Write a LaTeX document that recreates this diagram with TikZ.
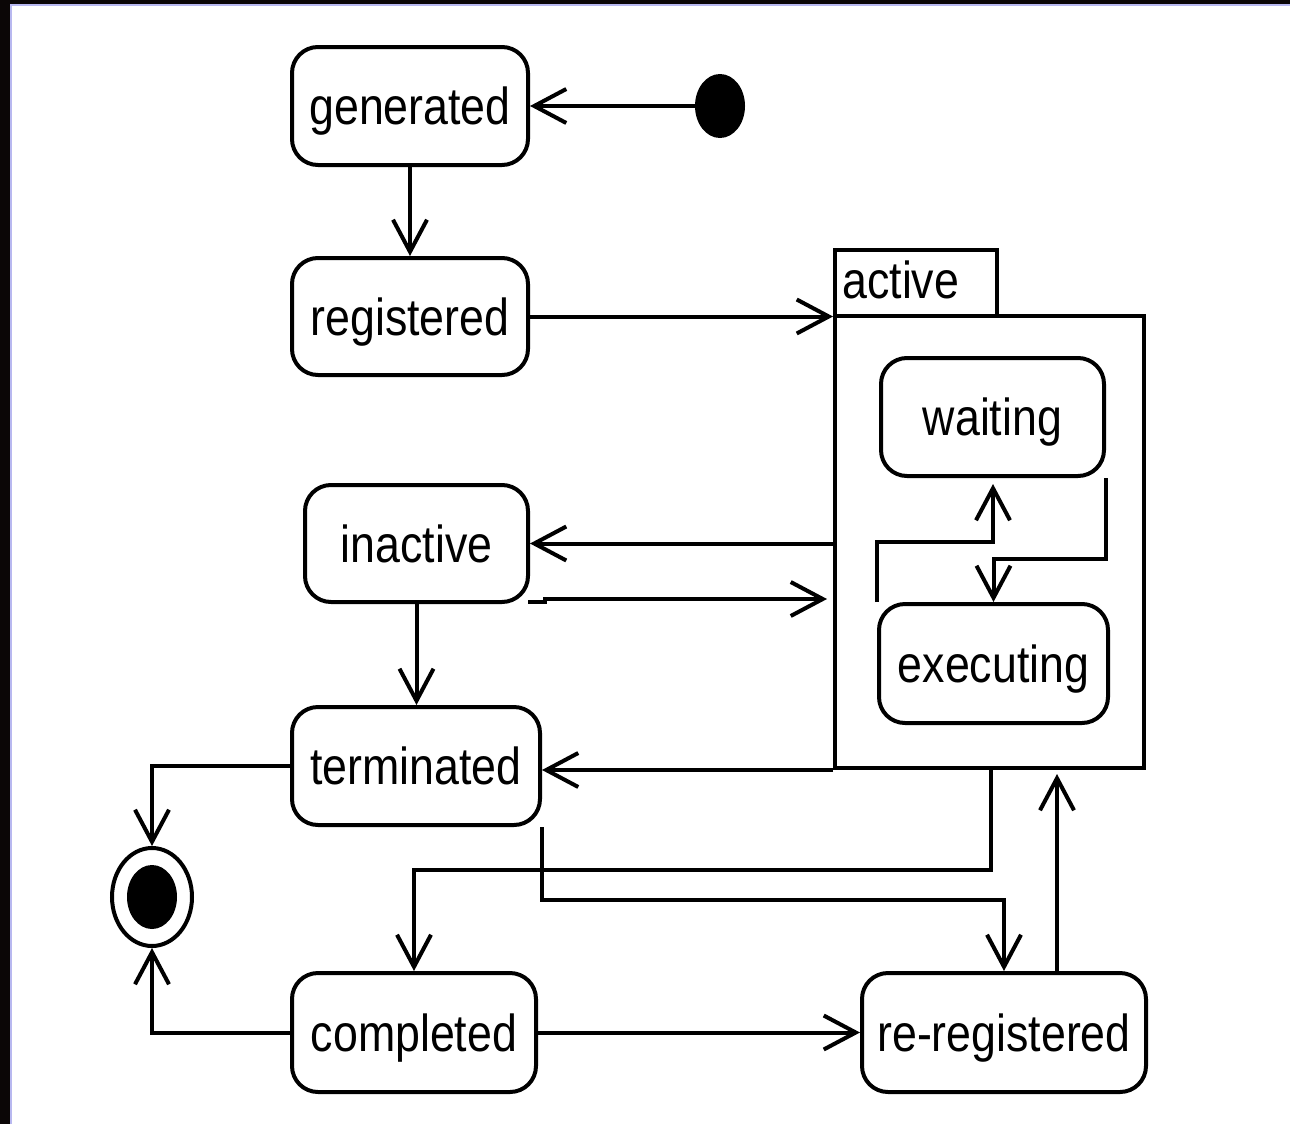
\documentclass[tikz,border=0pt]{standalone}
\usepackage{fontspec}
\setmainfont{Liberation Sans}
\newfontfamily\statefont[FakeStretch=0.86]{Liberation Sans}
\usetikzlibrary{arrows.meta,shapes.geometric,calc}
\definecolor{frameDark}{HTML}{0B0606}
\definecolor{frameBlue}{HTML}{B8B8F0}
\begin{document}
\begin{tikzpicture}[x=0.5pt,y=-0.5pt,
  state/.style={draw,line width=2pt,rounded corners=13pt,inner sep=0pt,
    text depth=0pt,font=\statefont\fontsize{26pt}{30pt}\selectfont},
  plainbox/.style={draw,line width=2pt,inner sep=0pt},
  arr/.style={line width=2pt,-{Straight Barb[length=16pt,width=17pt,line width=2pt]}},
  ln/.style={line width=2pt}]
\useasboundingbox (0,0) rectangle (1290,1124);
\fill[white] (0,0) rectangle (1290,1124);
% window frame along the top and left
\fill[frameDark] (0,0) rectangle (1290,4);
\fill[frameDark] (0,0) rectangle (10,1124);
\fill[frameBlue] (10,4) rectangle (1290,6);
\fill[frameBlue] (10,4) rectangle (12,1124);

% pseudo-states
\node[ellipse,fill=black,inner sep=0pt,minimum width=25pt,minimum height=32pt] (init) at (720,106) {};
\node[ellipse,draw,line width=2pt,inner sep=0pt,minimum width=40pt,minimum height=49pt] (final) at (152,897) {};
\node[ellipse,fill=black,inner sep=0pt,minimum width=25pt,minimum height=32pt] (finaldot) at (152,897) {};

% simple states
\node[state,minimum width=118pt,minimum height=59pt] (generated) at (410,106) {generated};
\node[state,minimum width=118pt,minimum height=58.5pt] (registered) at (410,316.5) {registered};
\node[state,minimum width=111.5pt,minimum height=58.5pt] (inactive) at (416.5,543.5) {inactive};
\node[state,minimum width=124pt,minimum height=59pt] (terminated) at (416,766) {terminated};
\node[state,minimum width=122pt,minimum height=59.5pt] (completed) at (414,1032.5) {completed};
\node[state,minimum width=142pt,minimum height=59.5pt] (reregistered) at (1004,1032.5) {re-registered};

% composite state "active"
\node[plainbox,minimum width=154.5pt,minimum height=226pt] (active) at (989.5,542) {};
\node[plainbox,minimum width=81pt,minimum height=33pt] (activetab) at (916,283) {};
\node[anchor=base west,inner sep=0pt,font=\statefont\fontsize{26pt}{30pt}\selectfont] (activelabel) at (842,298) {active};
\node[state,minimum width=111.5pt,minimum height=59pt] (waiting) at (992.5,417) {waiting};
\node[state,minimum width=114.5pt,minimum height=59.5pt] (executing) at (993.5,663.5) {executing};

% helper bend points
\coordinate (ia0) at (528,602);
\coordinate (ia) at (545,599);
\coordinate (a1) at (991,870);
\coordinate (t1) at (540,900);
\coordinate (e1) at (993,542);
\coordinate (w1) at (1105,559);
\coordinate (r1) at (1057,0);

% transitions
\draw[arr] (init) -- (generated.east);
\draw[arr] (generated) -- (registered);
\draw[arr] (registered.east) -- (registered.east -| active.west);
\draw[arr] (active.west |- inactive.east) -- (inactive.east);
\draw[arr,shorten >=3pt] (ia0) -- (ia0 -| ia) -- (ia) -- (ia -| active.west);
\draw[arr] (inactive.south) -- (inactive.south |- terminated.north);
\draw[arr] (active.south west) -- (terminated.east |- active.south west);
\draw[arr] (terminated.west) -| (final.north);
\draw[arr] (completed.west) -| (final.south);
\draw[arr] (completed.east) -- (reregistered.west);
\draw[arr] (active.south -| a1) -- (a1) -| (completed.north);
\draw[arr] (terminated.south east) |- (reregistered.north |- t1) -- (reregistered.north);
\draw[arr,shorten >=2pt] (reregistered.north -| r1) -- (active.south -| r1);
\draw[arr,shorten >=3pt] (executing.north west) |- (e1) -- (e1 |- waiting.south);
\draw[arr] (waiting.south east) |- (executing.north |- w1) -- (executing.north);
\end{tikzpicture}
\end{document}
